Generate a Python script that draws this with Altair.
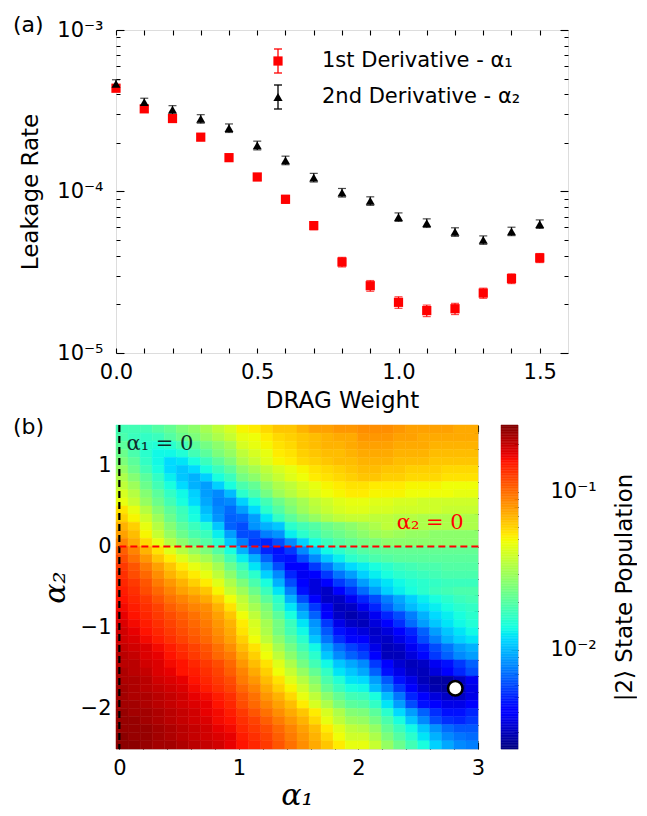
import altair as alt
import numpy as np
import pandas as pd

FONT = "DejaVu Sans"
SERIF = "DejaVu Serif"

# ---------------- panel (a): leakage rate vs DRAG weight ----------------
drag_weight = [0.0, 0.1, 0.2, 0.3, 0.4, 0.5, 0.6, 0.7, 0.8, 0.9, 1.0, 1.1, 1.2, 1.3, 1.4, 1.5]
leak_alpha1 = [4.36e-4, 3.25e-4, 2.83e-4, 2.17e-4, 1.62e-4, 1.23e-4, 8.95e-5, 6.15e-5,
               3.66e-5, 2.61e-5, 2.06e-5, 1.83e-5, 1.88e-5, 2.35e-5, 2.89e-5, 3.88e-5]
err_alpha1 = [1.7e-5, 1.3e-5, 1.2e-5, 0.9e-5, 0.8e-5, 0.6e-5, 0.5e-5, 0.35e-5,
              0.25e-5, 0.2e-5, 0.17e-5, 0.15e-5, 0.15e-5, 0.17e-5, 0.2e-5, 0.25e-5]
leak_alpha2 = [4.64e-4, 3.57e-4, 3.21e-4, 2.82e-4, 2.47e-4, 1.93e-4, 1.56e-4, 1.22e-4,
               9.84e-5, 8.74e-5, 6.95e-5, 6.38e-5, 5.62e-5, 5.01e-5, 5.67e-5, 6.29e-5]
err_alpha2 = [2.8e-5, 2.1e-5, 1.9e-5, 1.7e-5, 1.5e-5, 1.2e-5, 0.95e-5, 0.75e-5,
              0.6e-5, 0.53e-5, 0.42e-5, 0.39e-5, 0.34e-5, 0.3e-5, 0.34e-5, 0.38e-5]
series_names = ["1st Derivative - α₁", "2nd Derivative - α₂"]
series_colors = ["#ff0000", "#000000"]
series_shapes = ["square", "triangle-up"]

# ---------------- panel (b): |2> population map ----------------
ALPHA1_MIN, ALPHA1_MAX = -0.028, 3.0
ALPHA2_MIN, ALPHA2_MAX = -2.5, 1.5
LOG_MIN, LOG_MAX = -2.63, -0.576          # colour-bar range (log10 population)
# rows from alpha2 = 1.5 (top) to -2.5 (bottom); 30 columns alpha1 0 -> 3
# each value = position on the colour bar in percent (0 = bottom, 100 = top)
heat_rows = [
    "43 43 43 45 47 50 52 55 58 61 65 66 68 70 70 72 74 74 75 75 76 76 76 75 74 74 74 74 73 73",
    "44 42 41 42 45 48 50 53 56 59 63 64 66 68 69 70 71 72 73 73 75 75 75 74 74 73 73 73 73 73",
    "46 43 40 39 40 43 46 49 52 55 61 63 65 67 68 70 71 72 72 73 74 74 74 73 73 73 72 72 72 72",
    "48 44 40 37 37 39 43 46 50 53 58 61 63 66 67 69 70 71 71 72 73 73 73 72 72 72 71 71 71 71",
    "50 46 41 37 34 35 38 42 46 50 56 59 62 65 66 68 69 70 71 71 72 72 72 71 71 71 70 70 70 70",
    "53 48 43 38 34 32 34 38 42 46 52 55 58 61 63 65 67 68 69 70 71 71 70 70 69 69 69 68 68 68",
    "56 51 46 41 36 32 30 33 38 42 49 52 56 59 62 64 66 67 68 69 70 70 69 69 68 68 68 67 67 67",
    "58 54 48 43 38 34 30 28 33 38 44 47 52 56 58 61 63 65 66 67 67 66 66 66 65 65 65 64 64 64",
    "61 57 51 46 41 37 33 28 26 31 40 44 49 54 57 60 62 64 65 66 66 65 65 65 64 64 64 64 63 63",
    "63 59 53 48 43 38 34 29 25 26 33 38 43 48 52 55 58 60 62 63 63 62 62 61 61 60 60 60 60 60",
    "67 63 57 51 46 42 37 31 26 23 28 34 40 45 50 54 57 59 61 62 62 61 61 60 60 60 60 59 59 59",
    "69 65 60 54 48 43 38 33 27 22 23 28 35 41 46 50 53 56 58 59 59 58 58 57 57 56 56 56 56 56",
    "72 69 63 57 51 46 42 39 32 22 20 27 30 32 40 43 45 48 50 52 54 56 58 57 57 56 56 56 56 56",
    "74 71 65 59 53 48 44 42 36 28 20 20 25 27 36 40 43 46 48 50 52 54 55 54 53 53 52 52 52 52",
    "77 73 68 63 57 52 48 45 40 32 25 18 16 20 26 33 38 42 45 47 49 50 52 52 52 52 52 52 52 52",
    "81 77 72 67 62 57 53 50 45 38 30 22 16 14 18 26 32 37 40 43 45 46 47 47 47 47 47 47 47 47",
    "83 79 75 70 66 62 58 55 50 43 36 30 22 15 14 20 26 32 36 40 42 44 45 46 46 46 46 46 46 46",
    "85 82 78 74 70 66 63 60 55 48 42 35 28 20 12 12 18 24 30 34 36 38 40 42 43 44 44 45 45 45",
    "86 83 80 76 72 69 66 63 58 52 45 40 33 26 16 10 12 18 24 28 33 36 38 40 41 42 43 44 44 44",
    "87 85 82 78 75 72 69 66 62 56 50 44 38 30 20 12 8 12 18 22 28 32 35 37 39 40 41 42 42 42",
    "88 86 83 80 77 74 72 70 65 59 54 48 42 35 25 14 8 6 12 17 23 28 33 36 38 40 42 43 44 44",
    "89 87 85 82 79 77 75 73 69 64 58 52 46 40 30 20 12 6 6 10 16 20 25 29 33 36 38 40 42 43",
    "90 88 86 84 81 79 77 76 72 67 60 55 50 42 35 26 18 10 5 6 10 16 22 27 31 34 36 38 40 41",
    "91 89 87 85 83 81 79 77 74 70 64 58 52 46 38 30 22 12 6 4 6 10 16 20 25 30 34 36 38 40",
    "92 90 88 86 84 82 80 78 75 72 66 61 55 49 42 35 27 18 9 6 5 8 12 17 23 28 32 35 37 39",
    "93 91 89 87 85 83 81 79 76 73 67 62 56 49 43 37 29 21 14 10 8 6 8 12 16 22 28 32 35 37",
    "93 92 90 88 86 84 82 80 77 74 69 64 58 52 46 40 32 24 17 13 11 7 6 9 14 20 25 30 33 35",
    "94 93 92 90 88 86 84 82 79 76 71 67 62 55 49 43 37 29 23 19 16 9 5 6 10 15 20 24 28 30",
    "95 94 92 91 89 87 85 83 80 78 73 69 64 58 52 46 40 32 26 22 19 11 5 5 8 13 18 22 26 28",
    "95 95 93 92 90 89 87 85 83 80 75 71 67 62 56 49 43 37 32 29 26 18 11 7 5 6 10 14 18 22",
    "96 95 94 92 91 89 88 86 84 81 77 73 69 64 59 53 47 41 35 32 29 22 14 9 6 5 8 12 16 20",
    "96 96 95 93 92 91 89 87 85 83 78 75 71 67 62 57 51 44 39 35 34 28 21 14 9 5 3 3 6 10",
    "97 96 95 94 93 92 90 88 86 84 80 77 73 69 65 60 54 47 42 38 37 31 25 18 11 7 4 3 5 9",
    "97 96 96 95 94 93 91 90 88 86 82 79 75 72 68 63 58 52 47 43 42 38 31 24 16 11 8 6 6 9",
    "97 97 96 95 94 93 92 91 89 87 83 80 77 74 71 66 61 56 50 46 45 41 35 28 20 14 11 9 9 11",
    "98 97 97 96 95 94 93 91 90 88 85 82 79 76 73 70 66 61 56 51 50 46 40 34 28 22 17 14 14 16",
    "98 98 97 96 95 94 93 92 90 89 86 84 81 78 75 72 68 63 58 54 53 49 44 38 32 26 20 17 16 18",
    "98 98 98 97 96 95 94 93 91 90 87 85 83 80 77 74 71 66 62 58 57 53 47 42 37 32 27 23 21 21",
    "99 98 98 97 96 95 94 93 92 91 88 86 84 81 78 75 72 68 64 60 60 56 50 45 40 35 30 26 24 23",
    "99 99 98 97 97 96 95 94 93 91 89 87 85 82 79 76 73 70 66 63 63 59 53 48 43 38 33 29 26 25",
]
optimum_alpha1 = [2.81]
optimum_alpha2 = [-1.75]
annot_text = ["α₁ = 0", "α₂ = 0"]
annot_alpha1 = [0.06, 2.88]
annot_alpha2 = [1.26, 0.29]
cbar_tick_pop = [0.003, 0.004, 0.005, 0.006, 0.007, 0.008, 0.009,
                 0.01, 0.02, 0.03, 0.04, 0.05, 0.06, 0.07, 0.08, 0.09, 0.1, 0.2]

# ---------------- helpers ----------------
def axis(orient, values, major, minor=None, test=None, label_expr=None, title=None,
         label_pad=8, title_pad=8, title_font=FONT, title_size=23, title_style="normal",
         title_angle=None):
    kw = dict(orient=orient, values=values, domain=False, grid=False, ticks=True,
              tickColor="black", tickWidth=1.1, tickSize=major, offset=-major,
              labelOverlap=False, labelFlush=False)
    if minor is not None and test is not None:
        kw["tickDash"] = {"condition": {"test": test, "value": [major, 0]},
                          "value": [0, major - minor, minor]}
    if label_expr is None:
        kw["labels"] = False
    else:
        kw.update(labels=True, labelExpr=label_expr, labelFont=FONT, labelFontSize=21,
                  labelColor="black", labelPadding=label_pad)
    if title is None:
        kw["title"] = None
    else:
        kw.update(title=title, titleFont=title_font, titleFontSize=title_size,
                  titleFontWeight="normal", titleFontStyle=title_style, titleColor="black",
                  titlePadding=title_pad)
        if title_angle is not None:
            kw["titleAngle"] = title_angle
    return alt.Axis(**kw)


# ======================= panel (a) =======================
df_a = pd.DataFrame({
    "drag": drag_weight * 2,
    "rate": leak_alpha1 + leak_alpha2,
    "err": err_alpha1 + err_alpha2,
    "series": [series_names[0]] * len(drag_weight) + [series_names[1]] * len(drag_weight),
})
df_a["lo"] = df_a["rate"] - df_a["err"]
df_a["hi"] = df_a["rate"] + df_a["err"]

xa_scale = alt.Scale(domain=[0, 1.6], nice=False, zero=False)
ya_scale = alt.Scale(type="log", domain=[1e-5, 1e-3], nice=False)
col_a = alt.Scale(domain=series_names, range=series_colors)

xa_vals = [round(0.1 * i, 1) for i in range(16)]
ya_vals = [m * 10.0 ** e for e in (-5, -4) for m in range(1, 10)] + [1e-3]
L = "(log(datum.value)/LN10)"
test_log = f"abs({L} - round({L})) < 0.001"
lab_log = (f"abs({L} - round({L})) > 0.001 ? '' : round({L}) == -3 ? '10⁻³' : "
           f"round({L}) == -4 ? '10⁻⁴' : '10⁻⁵'")
lab_xa = "abs(datum.value*2 - round(datum.value*2)) < 0.001 ? format(datum.value, '.1f') : ''"

ax_a_bottom = axis("bottom", xa_vals, 5, label_expr=lab_xa, title="DRAG Weight",
                   label_pad=8, title_pad=7)
ax_a_top = axis("top", xa_vals, 5)
ax_a_left = axis("left", ya_vals, 8, 4, test_log, label_expr=lab_log, title="Leakage Rate",
                 label_pad=13, title_pad=14)
ax_a_right = axis("right", ya_vals, 8, 4, test_log)

base_a = alt.Chart(df_a)
bars = base_a.mark_rule(strokeWidth=1.2).encode(
    x=alt.X("drag:Q", scale=xa_scale, axis=ax_a_top),
    y=alt.Y("lo:Q", scale=ya_scale, axis=ax_a_right),
    y2="hi:Q",
    color=alt.Color("series:N", scale=col_a, legend=None),
)
cap_lo = base_a.mark_tick(orient="horizontal", size=8, thickness=1.2).encode(
    x=alt.X("drag:Q", scale=xa_scale, axis=None),
    y=alt.Y("lo:Q", scale=ya_scale, axis=None),
    color=alt.Color("series:N", scale=col_a, legend=None),
)
cap_hi = base_a.mark_tick(orient="horizontal", size=8, thickness=1.2).encode(
    x=alt.X("drag:Q", scale=xa_scale, axis=None),
    y=alt.Y("hi:Q", scale=ya_scale, axis=None),
    color=alt.Color("series:N", scale=col_a, legend=None),
)
pts_sq = base_a.transform_filter(alt.datum.series == series_names[0]).mark_point(
    filled=True, opacity=1, size=85, shape=series_shapes[0]
).encode(
    x=alt.X("drag:Q", scale=xa_scale, axis=ax_a_bottom),
    y=alt.Y("rate:Q", scale=ya_scale, axis=ax_a_left),
    color=alt.Color("series:N", scale=col_a, legend=None),
)
pts_tri = base_a.transform_filter(alt.datum.series == series_names[1]).mark_point(
    filled=True, opacity=1, size=80, shape=series_shapes[1]
).encode(
    x=alt.X("drag:Q", scale=xa_scale, axis=None),
    y=alt.Y("rate:Q", scale=ya_scale, axis=None),
    color=alt.Color("series:N", scale=col_a, legend=None),
)


# legend (drawn in pixel space of the plot area, top right)
def legend_entry(i, cy):
    name, colr, shp = series_names[i], series_colors[i], series_shapes[i]
    src = alt.Chart(pd.DataFrame({"label": [name]}))
    sx = 162
    bar = src.mark_rule(color=colr, strokeWidth=1.3).encode(
        x=alt.value(sx), y=alt.value(cy - 12), y2=alt.value(cy + 12))
    cap1 = src.mark_rule(color=colr, strokeWidth=1.3).encode(
        x=alt.value(sx - 4), x2=alt.value(sx + 4), y=alt.value(cy - 12))
    cap2 = src.mark_rule(color=colr, strokeWidth=1.3).encode(
        x=alt.value(sx - 4), x2=alt.value(sx + 4), y=alt.value(cy + 12))
    sym = src.mark_point(filled=True, opacity=1, size=85, shape=shp, color=colr).encode(
        x=alt.value(sx), y=alt.value(cy))
    lab = src.mark_text(align="left", baseline="middle", font=FONT, fontSize=21,
                        color="black").encode(x=alt.value(206), y=alt.value(cy), text="label:N")
    return [bar, cap1, cap2, sym, lab]


legend_layers = legend_entry(0, 31) + legend_entry(1, 67)

label_a = alt.Chart(pd.DataFrame({"t": ["(a)"]})).mark_text(
    align="left", baseline="alphabetic", font=FONT, fontSize=22, color="black"
).encode(text="t:N", x=alt.value(-103), y=alt.value(2))

panel_a = (
    alt.layer(bars, cap_lo, cap_hi, pts_sq, pts_tri, *legend_layers, label_a)
    .resolve_axis(x="independent", y="independent")
    .properties(width=452, height=323)
)

# ======================= panel (b) =======================
x_edges = np.linspace(ALPHA1_MIN, ALPHA1_MAX, 31)
y_edges = np.linspace(ALPHA2_MAX, ALPHA2_MIN, 41)
recs = []
for r, row in enumerate(heat_rows):
    vals = [int(v) for v in row.split()]
    for c, v in enumerate(vals):
        lp = LOG_MIN + v / 100.0 * (LOG_MAX - LOG_MIN)
        recs.append({"a1_lo": x_edges[c], "a1_hi": x_edges[c + 1],
                     "a2_hi": y_edges[r], "a2_lo": y_edges[r + 1], "logpop": lp})
heat_df = pd.DataFrame(recs)

JET_T = [0, 0.11, 0.125, 0.34, 0.35, 0.375, 0.64, 0.65, 0.66, 0.89, 0.91, 1.0]


def jet(t):
    r = np.interp(t, [0, 0.35, 0.66, 0.89, 1], [0, 0, 1, 1, 0.5])
    g = np.interp(t, [0, 0.125, 0.375, 0.64, 0.91, 1], [0, 0, 1, 1, 0, 0])
    b = np.interp(t, [0, 0.11, 0.34, 0.65, 1], [0.5, 1, 1, 0, 0])
    return "#%02x%02x%02x" % tuple(int(round(255 * v)) for v in (r, g, b))


color_scale = alt.Scale(domain=[LOG_MIN + t * (LOG_MAX - LOG_MIN) for t in JET_T],
                        range=[jet(t) for t in JET_T], interpolate="rgb", nice=False, zero=False)

xb_scale = alt.Scale(domain=[ALPHA1_MIN, ALPHA1_MAX], nice=False, zero=False)
yb_scale = alt.Scale(domain=[ALPHA2_MIN, ALPHA2_MAX], nice=False, zero=False)
xb_vals = [round(0.2 * i, 1) + 0.0 for i in range(16)]
yb_vals = [round(-2.4 + 0.2 * i, 1) + 0.0 for i in range(20)]
test_int = "abs(datum.value - round(datum.value)) < 0.001"
lab_int = "abs(datum.value - round(datum.value)) < 0.001 ? format(round(datum.value), 'd') : ''"

ax_b_bottom = axis("bottom", xb_vals, 7, 4, test_int, label_expr=lab_int, title="α₁",
                   label_pad=8, title_pad=2, title_font=SERIF, title_size=30, title_style="italic")
ax_b_left = axis("left", yb_vals, 7, 4, test_int, label_expr=lab_int, title="α₂",
                 label_pad=5, title_pad=10, title_font=SERIF, title_size=30, title_style="italic")
ax_b_top = axis("top", xb_vals, 7, 4, test_int)
ax_b_right = axis("right", yb_vals, 7, 4, test_int)

heat = alt.Chart(heat_df).mark_rect(strokeWidth=0.5).encode(
    x=alt.X("a1_lo:Q", scale=xb_scale, axis=ax_b_bottom),
    x2="a1_hi:Q",
    y=alt.Y("a2_lo:Q", scale=yb_scale, axis=ax_b_left),
    y2="a2_hi:Q",
    color=alt.Color("logpop:Q", scale=color_scale, legend=None),
    stroke=alt.Stroke("logpop:Q", scale=color_scale, legend=None),
)
vline = alt.Chart(pd.DataFrame({"a1": [0.0]})).mark_rule(
    color="black", strokeWidth=2.2, strokeDash=[7, 4]
).encode(x=alt.X("a1:Q", scale=xb_scale, axis=None))
hline = alt.Chart(pd.DataFrame({"a2": [0.0], "a1_from": [0.0], "a1_to": [3.03]})).mark_rule(
    color="#ff0000", strokeWidth=2.2, strokeDash=[7, 4]
).encode(
    y=alt.Y("a2:Q", scale=yb_scale, axis=None),
    x=alt.X("a1_from:Q", scale=xb_scale, axis=None),
    x2="a1_to:Q",
)
annot_df = pd.DataFrame({"label": annot_text, "a1": annot_alpha1, "a2": annot_alpha2})
txt1 = alt.Chart(annot_df.iloc[[0]]).mark_text(
    align="left", baseline="middle", font=SERIF, fontSize=21, color="#102a2a"
).encode(x=alt.X("a1:Q", scale=xb_scale, axis=None),
         y=alt.Y("a2:Q", scale=yb_scale, axis=None), text="label:N")
txt2 = alt.Chart(annot_df.iloc[[1]]).mark_text(
    align="right", baseline="middle", font=SERIF, fontSize=21, color="#ff0000"
).encode(x=alt.X("a1:Q", scale=xb_scale, axis=None),
         y=alt.Y("a2:Q", scale=yb_scale, axis=None), text="label:N")
marker = alt.Chart(pd.DataFrame({"a1": optimum_alpha1, "a2": optimum_alpha2})).mark_point(
    shape="circle", filled=True, fill="white", stroke="black", strokeWidth=2.6, size=210, opacity=1
).encode(x=alt.X("a1:Q", scale=xb_scale, axis=ax_b_top),
         y=alt.Y("a2:Q", scale=yb_scale, axis=ax_b_right))
label_b = alt.Chart(pd.DataFrame({"t": ["(b)"]})).mark_text(
    align="left", baseline="alphabetic", font=FONT, fontSize=22, color="black"
).encode(text="t:N", x=alt.value(-103), y=alt.value(9))

panel_b = (
    alt.layer(heat, vline, hline, txt1, txt2, marker, label_b)
    .resolve_axis(x="independent", y="independent")
    .properties(width=362, height=324)
)

# ======================= colour bar =======================
cb_levels = np.linspace(LOG_MIN, LOG_MAX, 201)
cb_df = pd.DataFrame({"lo": cb_levels[:-1], "hi": cb_levels[1:],
                      "mid": (cb_levels[:-1] + cb_levels[1:]) / 2})
cb_vals = [float(np.log10(v)) for v in cbar_tick_pop]
lab_cb = "abs(datum.value + 1) < 0.001 ? '10⁻¹' : abs(datum.value + 2) < 0.001 ? '10⁻²' : ''"
ax_cb = axis("right", cb_vals, 7, 4, test_int, label_expr=lab_cb,
             title="|2⟩ State Population", label_pad=32, title_pad=40, title_angle=270)
cbar = alt.Chart(cb_df).mark_rect(strokeWidth=0.5).encode(
    y=alt.Y("lo:Q", scale=alt.Scale(domain=[LOG_MIN, LOG_MAX], nice=False, zero=False), axis=ax_cb),
    y2="hi:Q",
    x=alt.value(0),
    x2=alt.value(17),
    color=alt.Color("mid:Q", scale=color_scale, legend=None),
    stroke=alt.Stroke("mid:Q", scale=color_scale, legend=None),
).properties(width=17, height=324)

chart = (
    alt.vconcat(panel_a, alt.hconcat(panel_b, cbar, spacing=14), spacing=2)
    .resolve_scale(color="independent", stroke="independent")
    .properties(padding={"left": 4, "top": 5, "right": 0, "bottom": 0})
    .configure_view(stroke="black", strokeWidth=1.2)
    .configure(font=FONT)
)

chart.save("out.html", embed_options={"renderer": "svg", "actions": False})
